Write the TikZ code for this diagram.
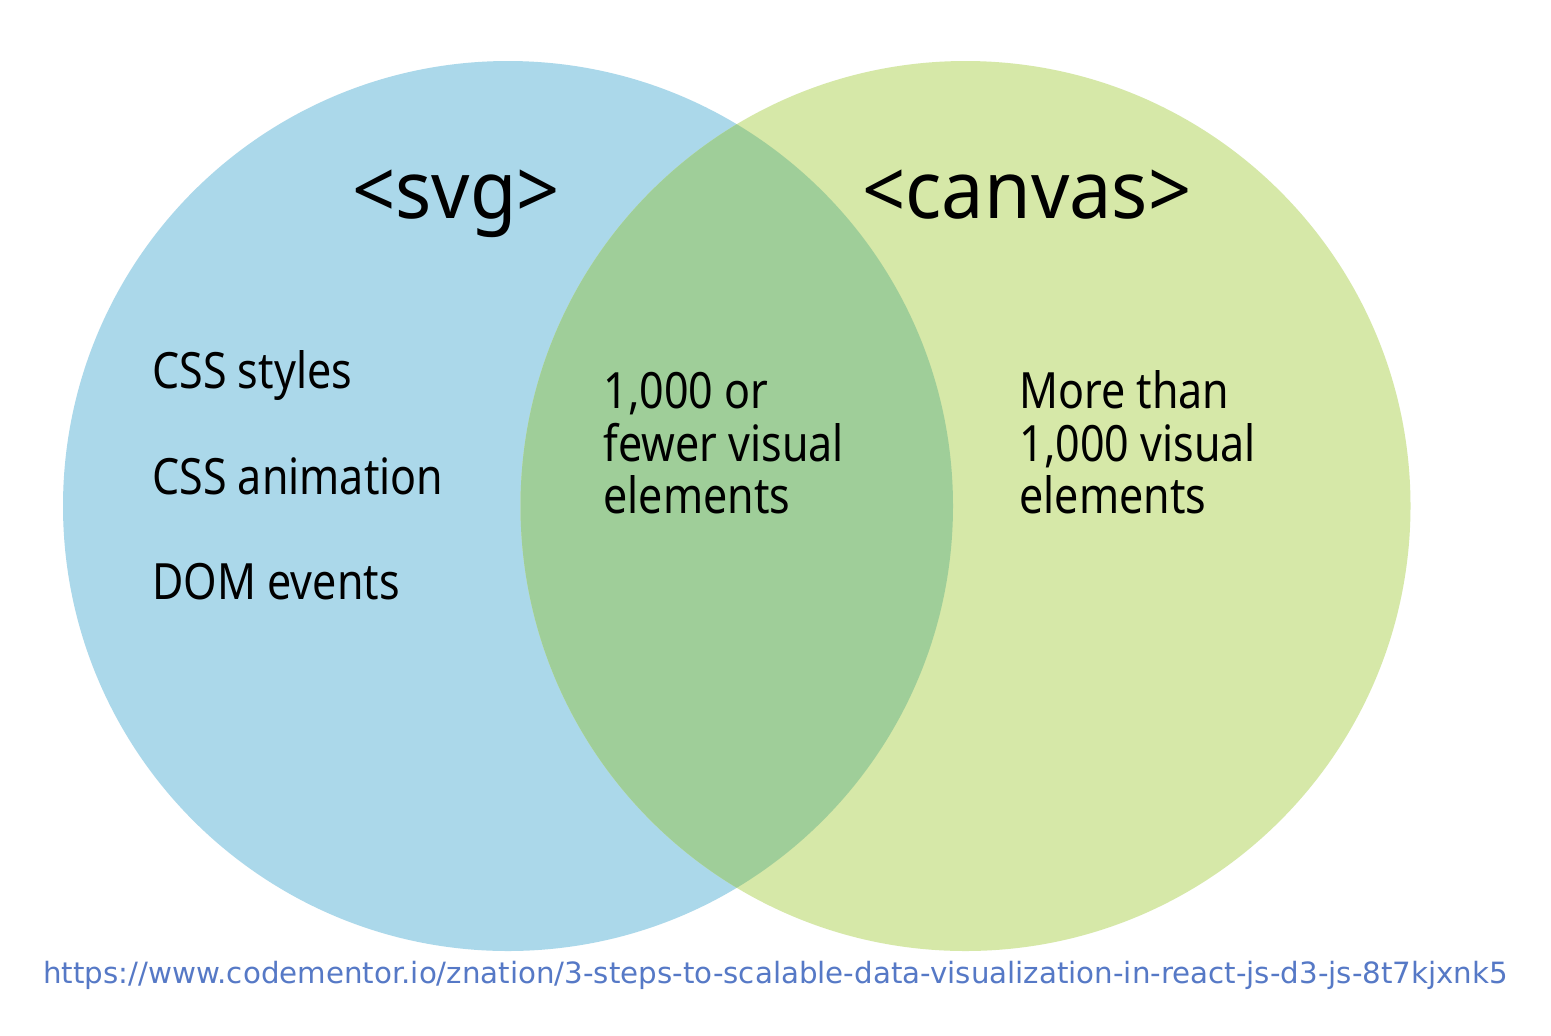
\documentclass[tikz,border=0pt]{standalone}
\usepackage{fontspec}
\setmainfont[FakeStretch=0.86]{Noto Sans}
\newfontfamily\titlefont[FakeStretch=0.945]{Noto Sans}
\newfontfamily\urlfont{DejaVu Sans}
\definecolor{svgblue}{HTML}{ABD8EA}
\definecolor{canvasgreen}{HTML}{D6E8A8}
\definecolor{bothgreen}{HTML}{9FCE99}
\definecolor{linkblue}{HTML}{5679C6}
\begin{document}
\begin{tikzpicture}[x=0.5pt,y=-0.5pt,
  title/.style={anchor=base west,inner sep=0pt,font=\titlefont\fontsize{40}{48}\selectfont},
  item/.style={anchor=base west,inner sep=0pt,font=\fontsize{25}{26}\selectfont},
  link/.style={anchor=base west,inner sep=0pt,text=linkblue,font=\urlfont\fontsize{14.65}{16}\selectfont}]
\useasboundingbox[fill=white] (0,0) rectangle (1551,1035);
\coordinate (svgc) at (508,506);
\coordinate (canc) at (965.5,506);
% the two sets and their intersection
\fill[svgblue] (svgc) circle[radius=445];
\fill[canvasgreen] (canc) circle[radius=445];
\begin{scope}
  \clip (svgc) circle[radius=445];
  \fill[bothgreen] (canc) circle[radius=445];
\end{scope}
% set titles
\node[title] (tsvg) at (352,218) {<svg>};
\node[title] (tcanvas) at (862,218) {<canvas>};
% svg only
\node[item] (css) at (152,388) {CSS styles};
\node[item] (anim) at (152,494) {CSS animation};
\node[item] (dom) at (152,599) {DOM events};
% both
\node[item] (b1) at (603,408) {1,000 or};
\node[item] (b2) at (603,461) {fewer visual};
\node[item] (b3) at (603,513) {elements};
% canvas only
\node[item] (c1) at (1019,408) {More than};
\node[item] (c2) at (1019,461) {1,000 visual};
\node[item] (c3) at (1019,513) {elements};
% source
\node[link] (src) at (43,983) {https://www.codementor.io/znation/3-steps-to-scalable-data-visualization-in-react-js-d3-js-8t7kjxnk5};
\end{tikzpicture}
\end{document}
